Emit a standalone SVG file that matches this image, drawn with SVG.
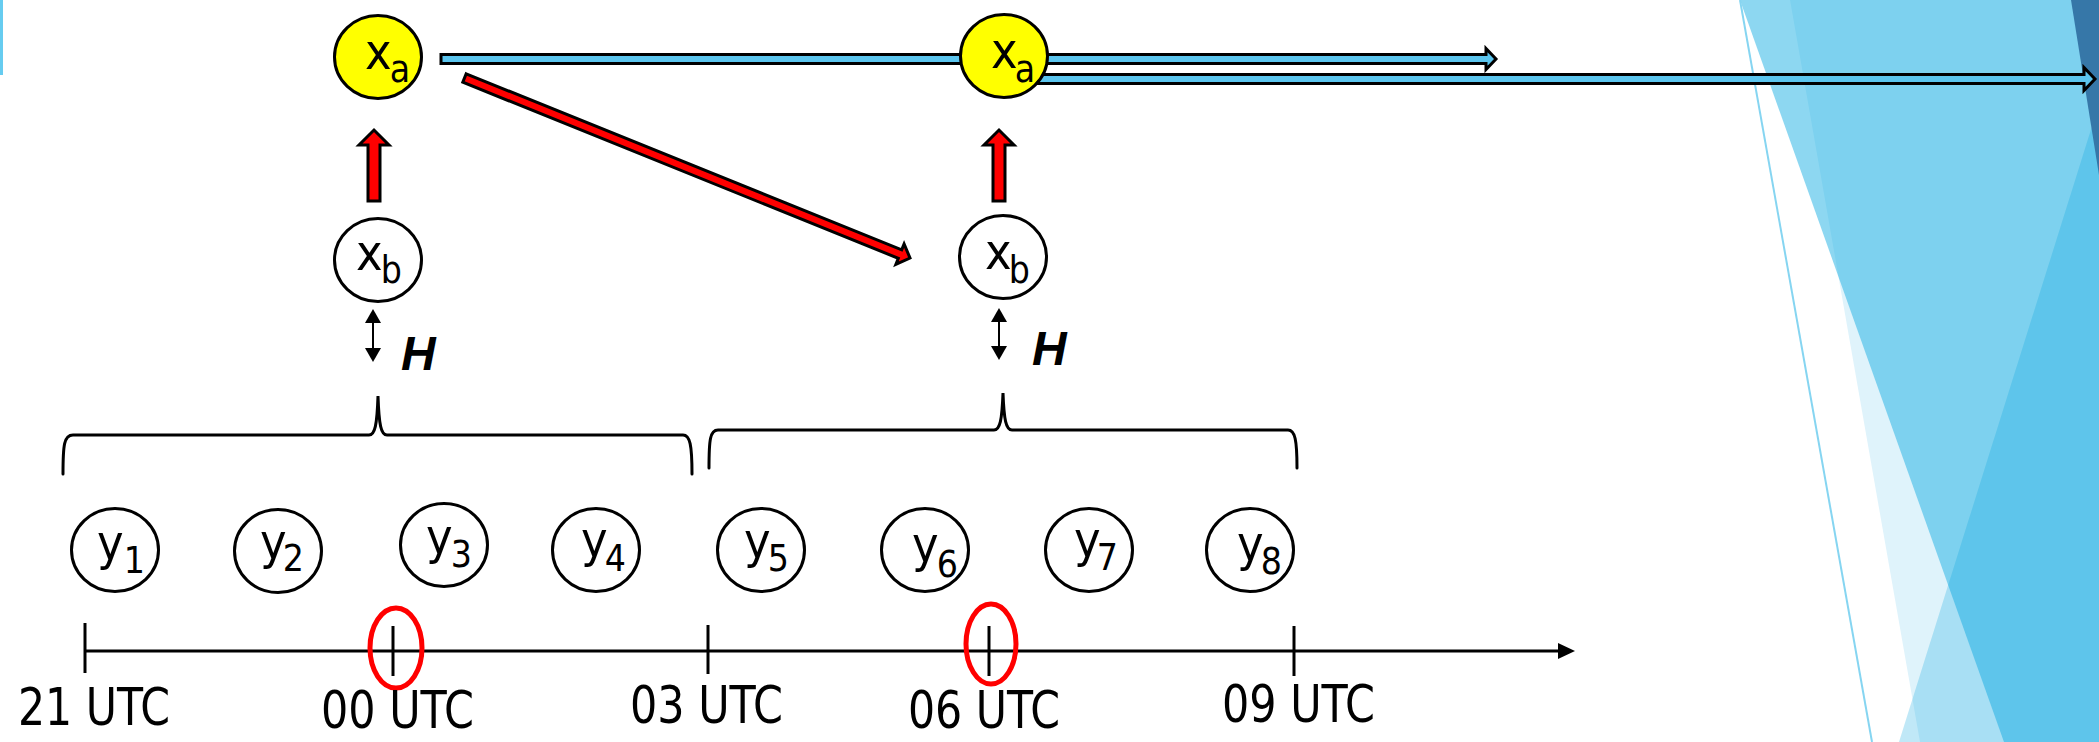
<svg xmlns="http://www.w3.org/2000/svg" width="2099" height="742" viewBox="0 0 2099 742">
<style>
.node{fill:#ffffff;stroke:#000;stroke-width:3}
.est{fill:#ffff00;stroke:#000;stroke-width:3}
.lbl{font-family:"Liberation Sans Narrow","DejaVu Sans Condensed","Liberation Sans",sans-serif;font-size:50px;fill:#000}
.sub{font-size:37px}
.utc{font-family:"Liberation Sans Narrow","DejaVu Sans Condensed","Liberation Sans",sans-serif;font-size:52px;fill:#000}
.h{font-family:"Liberation Sans",Arial,sans-serif;font-size:48px;font-weight:bold;font-style:italic;fill:#000}
.bar{fill:#5bc5ee;stroke:#000;stroke-width:3;stroke-linejoin:miter}
.red{fill:#ff0000;stroke:#000;stroke-width:3;stroke-linejoin:miter}
.ln{stroke:#000;stroke-width:3;fill:none}
.brace{stroke:#000;stroke-width:3;fill:none;stroke-linecap:round}
.circ{fill:none;stroke:#ff0000;stroke-width:5}
</style>
<g id="background">
<rect x="0" y="0" width="3" height="75" fill="#66ccf0"/>
<polygon points="1790,0 2099,0 2099,742 1920,742" fill="#dff3fb"/>
<polygon points="1740,0 2099,0 2099,742 2004,742" fill="#1bafe3" fill-opacity="0.5"/>
<polygon points="1899,742 2099,104 2099,742" fill="#05a5e1" fill-opacity="0.25"/>
<polygon points="2071,0 2099,0 2099,175" fill="#3677a8"/>
<line x1="1740" y1="0" x2="1872" y2="742" stroke="#86d5f1" stroke-width="2"/>
</g>
<g id="connectors">
<polygon class="bar" points="441,54.5 1486,54.5 1486,48.5 1496,59 1486,69.5 1486,63.5 441,63.5"/>
<polygon class="bar" points="1010,74.5 2084,74.5 2084,67.5 2095,79 2084,90.5 2084,83.5 1010,83.5"/>
<polygon class="red" points="368,201 368,145 359,145 374,130 389,145 380,145 380,201"/>
<polygon class="red" points="993,201 993,145 984,145 999,130 1014,145 1005,145 1005,201"/>
<polygon class="red" points="466.2,73.8 901.7,249.9 904.1,243.9 910,258 895.9,264.3 898.3,258.3 462.8,82.2"/>
<line x1="373" y1="320" x2="373" y2="351" stroke="#000" stroke-width="2"/>
<polygon points="373,309 365,323 381,323" fill="#000"/>
<polygon points="373,362 365,348 381,348" fill="#000"/>
<line x1="999" y1="319" x2="999" y2="349" stroke="#000" stroke-width="2"/>
<polygon points="999,308 991,322 1007,322" fill="#000"/>
<polygon points="999,360 991,346 1007,346" fill="#000"/>
</g>
<g id="h-labels">
<text class="h" x="401" y="370">H</text>
<text class="h" x="1032" y="365">H</text>
</g>
<g id="braces">
<path class="brace" d="M63,474 C63,445 64,435 73,435 L369,435 C375,435 377,425 378,396 C379,425 381,435 387,435 L683,435 C690,435 692,445 692,474"/>
<path class="brace" d="M709,468 C709,440 710,430 718,430 L994,430 C1000,430 1002,420 1003,393 C1004,420 1006,430 1012,430 L1288,430 C1295,430 1297,440 1297,468"/>
</g>
<g id="timeline">
<line class="ln" x1="85" y1="651" x2="1560" y2="651"/>
<polygon points="1575,651 1558,643 1558,659" fill="#000"/>
<line class="ln" x1="85" y1="623" x2="85" y2="673"/>
<line class="ln" x1="393" y1="626" x2="393" y2="676"/>
<line class="ln" x1="708" y1="625" x2="708" y2="674"/>
<line class="ln" x1="989" y1="626" x2="989" y2="676"/>
<line class="ln" x1="1294" y1="626" x2="1294" y2="676"/>
<ellipse class="circ" cx="396" cy="648" rx="26" ry="40"/>
<ellipse class="circ" cx="991" cy="644" rx="25" ry="40"/>
<text class="utc" x="18" y="725" textLength="152" lengthAdjust="spacingAndGlyphs">21 UTC</text>
<text class="utc" x="321" y="728" textLength="153" lengthAdjust="spacingAndGlyphs">00 UTC</text>
<text class="utc" x="630" y="723" textLength="153" lengthAdjust="spacingAndGlyphs">03 UTC</text>
<text class="utc" x="908" y="728" textLength="152" lengthAdjust="spacingAndGlyphs">06 UTC</text>
<text class="utc" x="1222" y="722" textLength="153" lengthAdjust="spacingAndGlyphs">09 UTC</text>
</g>
<g id="xa1"><ellipse class="est" cx="378" cy="57" rx="43.5" ry="41.5"/><text class="lbl" x="365" y="69">x<tspan class="sub" dx="-2" dy="13">a</tspan></text></g>
<g id="xa2"><ellipse class="est" cx="1004" cy="56" rx="43.5" ry="41.5"/><text class="lbl" x="991" y="68">x<tspan class="sub" dx="-3" dy="14">a</tspan></text></g>
<g id="xb1"><ellipse class="node" cx="378" cy="260" rx="43.5" ry="41.5"/><text class="lbl" x="356" y="270">x<tspan class="sub" dx="-2" dy="13">b</tspan></text></g>
<g id="xb2"><ellipse class="node" cx="1003" cy="257" rx="43.5" ry="41.5"/><text class="lbl" x="985" y="269">x<tspan class="sub" dx="-3" dy="14">b</tspan></text></g>
<g id="y1"><ellipse class="node" cx="115" cy="550" rx="43.5" ry="41.5"/><text class="lbl" x="97" y="560">y<tspan class="sub" dx="0" dy="13">1</tspan></text></g>
<g id="y2"><ellipse class="node" cx="278" cy="551" rx="43.5" ry="41.5"/><text class="lbl" x="260" y="559">y<tspan class="sub" dx="-4" dy="12">2</tspan></text></g>
<g id="y3"><ellipse class="node" cx="444" cy="545" rx="43.5" ry="41.5"/><text class="lbl" x="426" y="554">y<tspan class="sub" dx="-2" dy="13">3</tspan></text></g>
<g id="y4"><ellipse class="node" cx="596" cy="550" rx="43.5" ry="41.5"/><text class="lbl" x="581" y="557">y<tspan class="sub" dx="-3" dy="14">4</tspan></text></g>
<g id="y5"><ellipse class="node" cx="761" cy="550" rx="43.5" ry="41.5"/><text class="lbl" x="744" y="558">y<tspan class="sub" dx="-3" dy="13">5</tspan></text></g>
<g id="y6"><ellipse class="node" cx="925" cy="550" rx="43.5" ry="41.5"/><text class="lbl" x="912" y="562">y<tspan class="sub" dx="-2" dy="15">6</tspan></text></g>
<g id="y7"><ellipse class="node" cx="1089" cy="550" rx="43.5" ry="41.5"/><text class="lbl" x="1074" y="557">y<tspan class="sub" dx="-4" dy="13">7</tspan></text></g>
<g id="y8"><ellipse class="node" cx="1250" cy="550" rx="43.5" ry="41.5"/><text class="lbl" x="1237" y="561">y<tspan class="sub" dx="-3" dy="13">8</tspan></text></g>
</svg>
